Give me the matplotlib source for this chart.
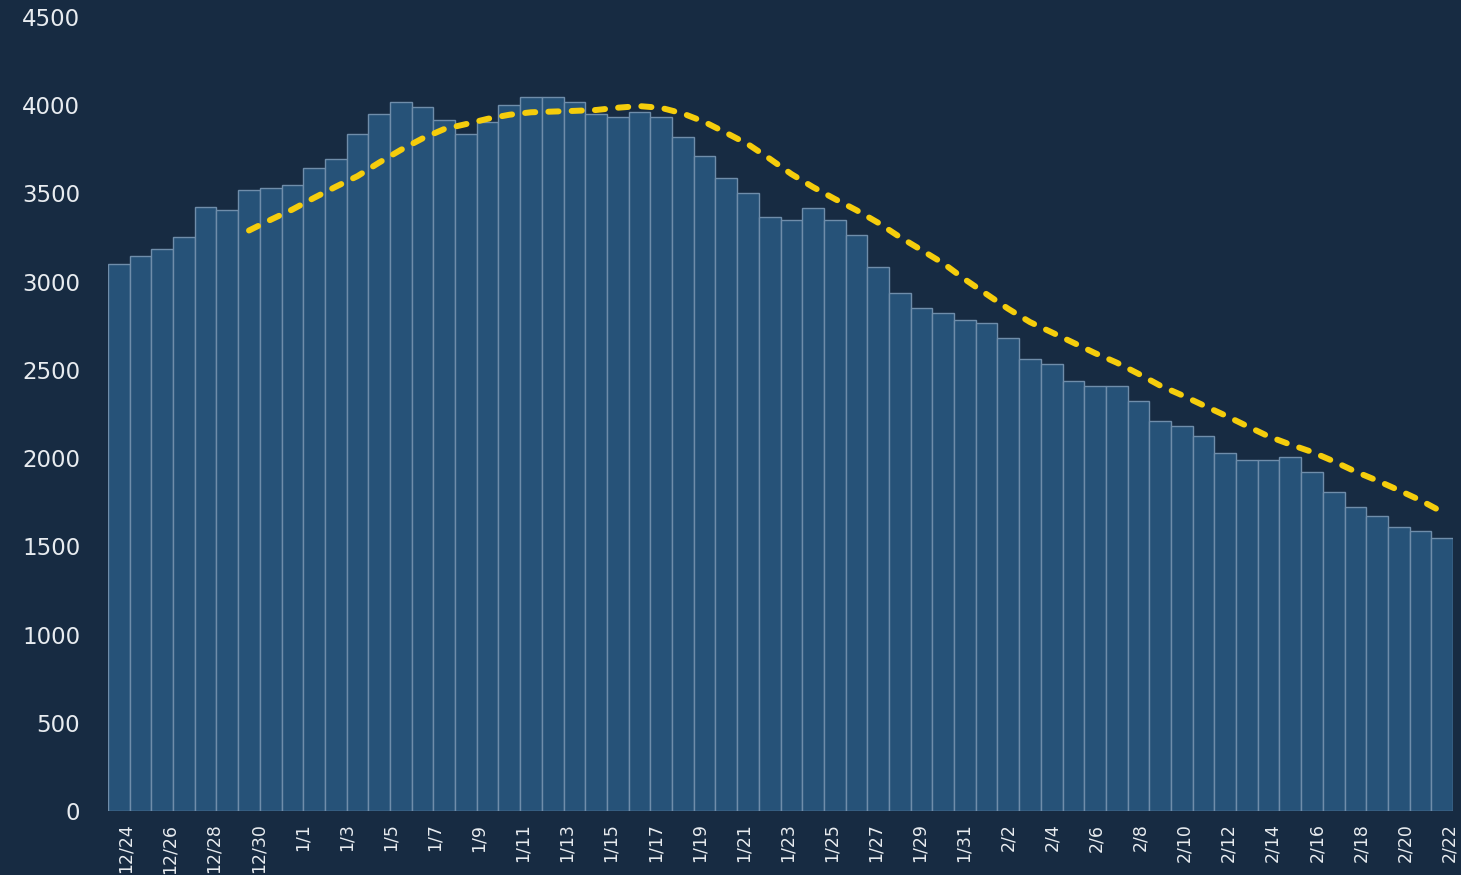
import matplotlib
matplotlib.use("Agg")
import matplotlib.pyplot as plt
import matplotlib.transforms as mtransforms
import numpy as np

# ---- data ----
daily_values = [
    3101, 3143, 3183, 3254, 3421, 3408, 3517, 3532, 3546, 3644,
    3698, 3838, 3950, 4018, 3990, 3919, 3838, 3906, 4004, 4046,
    4046, 4018, 3950, 3935, 3963, 3935, 3821, 3712, 3585, 3502,
    3364, 3351, 3419, 3351, 3266, 3085, 2934, 2849, 2824, 2781,
    2767, 2682, 2560, 2531, 2435, 2407, 2407, 2325, 2212, 2183,
    2127, 2030, 1991, 1991, 2004, 1919, 1810, 1724, 1670, 1611,
    1588, 1545,
]
# dashed average line, starting at the 7th bar
avg_start = 6
avg_values = [
    3290, 3351, 3409, 3475, 3538, 3598, 3675, 3747, 3812, 3865,
    3893, 3923, 3946, 3960, 3964, 3968, 3973, 3986, 3995, 3985,
    3953, 3905, 3843, 3779, 3697, 3610, 3536, 3469, 3405, 3334,
    3253, 3179, 3104, 3013, 2929, 2846, 2771, 2713, 2654, 2595,
    2541, 2478, 2411, 2357, 2299, 2242, 2182, 2123, 2077, 2035,
    1982, 1924, 1873, 1818, 1761, 1695,
]
tick_labels = [
    "12/24", "12/26", "12/28", "12/30", "1/1", "1/3", "1/5", "1/7", "1/9",
    "1/11", "1/13", "1/15", "1/17", "1/19", "1/21", "1/23", "1/25", "1/27",
    "1/29", "1/31", "2/2", "2/4", "2/6", "2/8", "2/10", "2/12", "2/14",
    "2/16", "2/18", "2/20", "2/22",
]
y_ticks = [0, 500, 1000, 1500, 2000, 2500, 3000, 3500, 4000, 4500]

# ---- style ----
BG = "#172b42"
BAR = "#265278"
EDGE = "#6f8daa"
LINE = "#f5cd0c"
TXT = "#e8ecf0"

plt.rcParams["font.family"] = ["DejaVu Sans"]

fig = plt.figure(figsize=(14.61, 8.75), dpi=100, facecolor=BG)
ax = fig.add_axes([108 / 1461, 1 - 811 / 875, (1453 - 108) / 1461, (811 - 17) / 875])
ax.set_facecolor(BG)

x = np.arange(len(daily_values))
ax.bar(x, daily_values, width=1.0, color=BAR, edgecolor=EDGE, linewidth=1.0)

xa = np.arange(avg_start, avg_start + len(avg_values))
ax.plot(xa, avg_values, color=LINE, linewidth=4.3, linestyle=(0, (1.7, 2.2)),
        dash_capstyle="round", solid_capstyle="round")

ax.set_xlim(-0.5, len(daily_values) - 0.5)
ax.set_ylim(0, 4500)

for s in ax.spines.values():
    s.set_visible(False)

ax.set_yticks(y_ticks)
ax.set_yticklabels([str(v) for v in y_ticks], fontsize=16.5, color=TXT)
ax.tick_params(axis="y", length=0, pad=20)

tick_pos = np.linspace(0, len(daily_values) - 1, len(tick_labels))
ax.set_xticks(tick_pos)
ax.set_xticklabels(tick_labels, rotation=90, fontsize=12.5, color=TXT, va="top", ha="center")
ax.tick_params(axis="x", length=0, pad=9)
offset = mtransforms.ScaledTranslation(7 / 100, 0, fig.dpi_scale_trans)
for lab in ax.get_xticklabels():
    lab.set_transform(lab.get_transform() + offset)

fig.savefig("out.png", dpi=100, facecolor=BG)
